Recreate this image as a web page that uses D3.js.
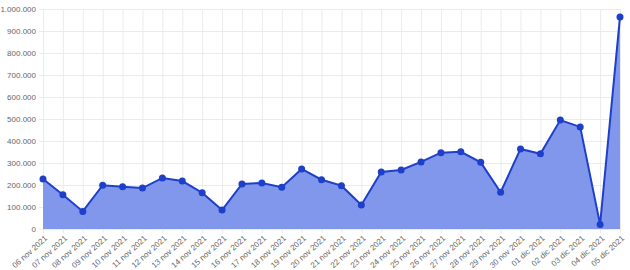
<!DOCTYPE html>
<html>
<head>
<meta charset="utf-8">
<script src="https://cdnjs.cloudflare.com/ajax/libs/d3/7.8.5/d3.min.js"></script>
<style>
  body { margin: 0; background: #fff; }
  svg text { font-family: "Liberation Sans", Arial, sans-serif; fill: #666; }
</style>
</head>
<body>
<svg width="630" height="270"></svg>
<script>
var dates = ["06 nov 2021","07 nov 2021","08 nov 2021","09 nov 2021","10 nov 2021","11 nov 2021",
  "12 nov 2021","13 nov 2021","14 nov 2021","15 nov 2021","16 nov 2021","17 nov 2021","18 nov 2021",
  "19 nov 2021","20 nov 2021","21 nov 2021","22 nov 2021","23 nov 2021","24 nov 2021","25 nov 2021",
  "26 nov 2021","27 nov 2021","28 nov 2021","29 nov 2021","30 nov 2021","01 dic 2021","02 dic 2021",
  "03 dic 2021","04 dic 2021","05 dic 2021"];
var values = [227000,156000,80000,199000,192000,186000,232000,218000,165000,86000,205000,209000,190000,
  273000,224000,197000,109000,259000,268000,305000,347000,351000,303000,167000,364000,342000,495000,
  464000,21000,964000];
var yTicks = [0,100000,200000,300000,400000,500000,600000,700000,800000,900000,1000000];

function main(){
  var svg = d3.select("svg");
  var left = 43, right = 620, plotTop = 9, bottom = 229;

  var x = d3.scalePoint().domain(dates).range([left, right]);
  var y = d3.scaleLinear().domain([0, 1000000]).range([bottom, plotTop]);

  var fmt = function(d){ return d3.format(",")(d).replace(/,/g, "."); };

  // grid
  svg.append("g").selectAll("line").data(yTicks).enter().append("line")
    .attr("x1", left - 4).attr("x2", right)
    .attr("y1", function(d){ return y(d) + 0.5; }).attr("y2", function(d){ return y(d) + 0.5; })
    .attr("stroke", "#ebebeb").attr("stroke-width", 1);
  svg.append("g").selectAll("line").data(dates).enter().append("line")
    .attr("x1", function(d){ return x(d) + 0.5; }).attr("x2", function(d){ return x(d) + 0.5; })
    .attr("y1", plotTop).attr("y2", bottom + 4)
    .attr("stroke", "#ebebeb").attr("stroke-width", 1);

  // y labels
  svg.append("g").selectAll("text").data(yTicks).enter().append("text")
    .attr("x", left - 7).attr("y", function(d){ return y(d); })
    .attr("dy", "0.35em").attr("text-anchor", "end")
    .style("font-size", "8px")
    .text(fmt);

  // x labels
  svg.append("g").selectAll("text").data(dates).enter().append("text")
    .attr("transform", function(d){ return "translate(" + (x(d) + 3) + "," + (bottom + 8) + ") rotate(-42)"; })
    .attr("text-anchor", "end")
    .attr("dy", "0.35em")
    .style("font-size", "8px")
    .text(function(d){ return d; });

  var data = dates.map(function(d, i){ return { d: d, v: values[i] }; });

  svg.append("path").datum(data)
    .attr("fill", "#8097eb")
    .attr("d", d3.area().x(function(p){ return x(p.d); }).y0(bottom).y1(function(p){ return y(p.v); }));

  svg.append("path").datum(data)
    .attr("fill", "none").attr("stroke", "#1e3fc9").attr("stroke-width", 2)
    .attr("d", d3.line().x(function(p){ return x(p.d); }).y(function(p){ return y(p.v); }));

  svg.append("g").selectAll("circle").data(data).enter().append("circle")
    .attr("cx", function(p){ return x(p.d); }).attr("cy", function(p){ return y(p.v); })
    .attr("r", 3.5).attr("fill", "#1e3fc9");
}
main();
</script>
</body>
</html>
